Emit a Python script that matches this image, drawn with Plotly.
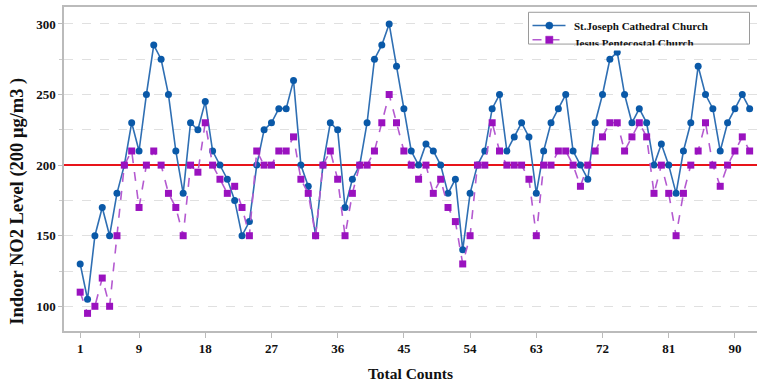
import plotly.graph_objects as go

counts = list(range(1, 93))

st_joseph = [
    130, 105, 150, 170, 150, 180, 200, 230, 210, 250,
    285, 275, 250, 210, 180, 230, 225, 245, 210, 200,
    190, 175, 150, 160, 200, 225, 230, 240, 240, 260,
    200, 185, 150, 200, 230, 225, 170, 190, 200, 230,
    275, 285, 300, 270, 240, 210, 200, 215, 210, 200,
    180, 190, 140, 180, 200, 210, 240, 250, 210, 220,
    230, 220, 180, 210, 230, 240, 250, 210, 200, 190,
    230, 250, 275, 280, 250, 230, 240, 230, 200, 215,
    200, 180, 210, 230, 270, 250, 240, 210, 230, 240,
    250, 240,
]

jesus_pentecostal = [
    110, 95, 100, 120, 100, 150, 200, 210, 170, 200,
    210, 200, 180, 170, 150, 200, 195, 230, 200, 190,
    180, 185, 170, 150, 210, 200, 200, 210, 210, 220,
    190, 180, 150, 200, 210, 190, 150, 180, 200, 200,
    210, 230, 250, 230, 210, 200, 190, 200, 180, 190,
    170, 160, 130, 150, 200, 200, 230, 210, 200, 200,
    200, 190, 150, 200, 200, 210, 210, 200, 185, 200,
    210, 220, 230, 230, 210, 220, 230, 220, 180, 200,
    180, 150, 180, 200, 210, 230, 200, 185, 200, 210,
    220, 210,
]

series_names = ["St.Joseph Cathedral Church", "Jesus Pentecostal Church"]
x_tick_vals = [1, 9, 18, 27, 36, 45, 54, 63, 72, 81, 90]
limit_value = 200

X_MIN, X_MAX = -1.2, 93.0
Y_MIN, Y_MAX = 82.5, 312

serif = "Liberation Serif, Times New Roman, serif"
blue_line, blue_mark = "#2f6fb3", "#0a59a8"
pink_line, pink_mark = "#b45ad0", "#9a12bf"

W, H = 758, 382
M_L, M_R, M_T, M_B = 64, 1, 7, 49
PW, PH = W - M_L - M_R, H - M_T - M_B


def fx(px):
    """Pixel column -> paper x."""
    return (px - M_L) / PW


def fy(py):
    """Pixel row -> paper y."""
    return 1 - (py - M_T) / PH


fig = go.Figure()

# guideline value, drawn first so the series sit on top of it
fig.add_trace(go.Scatter(
    x=[X_MIN, X_MAX], y=[limit_value, limit_value], mode="lines",
    line=dict(color="#e8141a", width=2), hoverinfo="skip", showlegend=False,
))

fig.add_trace(go.Scatter(
    x=counts, y=st_joseph, mode="lines+markers", name=series_names[0],
    line=dict(color=blue_line, width=1.6),
    marker=dict(symbol="circle", size=7, color=blue_mark),
))

fig.add_trace(go.Scatter(
    x=counts, y=jesus_pentecostal, mode="lines+markers", name=series_names[1],
    line=dict(color=pink_line, width=1.6, dash="dash"),
    marker=dict(symbol="square", size=7, color=pink_mark),
))

# boxed key in the upper right corner
box = dict(x0=528.5, x1=749.5, y0=12.3, y1=44.3)
fig.add_shape(type="rect", xref="paper", yref="paper",
              x0=fx(box["x0"]), x1=fx(box["x1"]), y0=fy(box["y1"]), y1=fy(box["y0"]),
              line=dict(color="#9a9a9a", width=1), fillcolor="white", layer="above")

key_rows = [
    (25.7, blue_line, blue_mark, "solid", "circle"),
    (40.0, pink_line, pink_mark, "dash", "rect"),
]
for row_y, lc, mc, dash, sym in key_rows:
    fig.add_shape(type="line", xref="paper", yref="paper",
                  x0=fx(532.5), x1=fx(565.5), y0=fy(row_y), y1=fy(row_y),
                  line=dict(color=lc, width=1.5, dash=dash), layer="above")
    fig.add_shape(type=sym, xref="paper", yref="paper",
                  x0=fx(549.3 - 3.6), x1=fx(549.3 + 3.6),
                  y0=fy(row_y + 3.6), y1=fy(row_y - 3.6),
                  line=dict(color=mc, width=0.5), fillcolor=mc, layer="above")

fig.add_annotation(text=series_names[0], xref="paper", yref="paper",
                   x=fx(571.5), y=fy(26.5), xanchor="left", yanchor="middle",
                   showarrow=False,
                   font=dict(family=serif, size=11, color="#111", weight="bold"))
fig.add_annotation(text=series_names[1], xref="paper", yref="paper",
                   x=fx(571.5), y=fy(43.0), xanchor="left", yanchor="middle",
                   showarrow=False,
                   font=dict(family=serif, size=11, color="#111", weight="bold"))
# the key box cuts off the lower edge of its second row
fig.add_annotation(text="", xref="paper", yref="paper",
                   x=fx(box["x0"] - 1), y=fy(45.0), xanchor="left", yanchor="top",
                   width=box["x1"] - box["x0"] + 2, height=3.5, borderpad=0,
                   bgcolor="white", showarrow=False)

# y-axis title
fig.add_annotation(text="Indoor NO2 Level (200 μg/m3 )", xref="paper", yref="paper",
                   x=fx(18), y=fy(203), xanchor="center", yanchor="middle",
                   textangle=-90, showarrow=False,
                   font=dict(family=serif, size=18.5, color="#111", weight="bold"))

fig.update_layout(
    width=W, height=H,
    margin=dict(l=M_L, r=M_R, t=M_T, b=M_B),
    plot_bgcolor="white", paper_bgcolor="white",
    font=dict(family=serif, size=13, color="#111"),
    showlegend=False,
)

fig.update_xaxes(
    range=[X_MIN, X_MAX],
    tickvals=x_tick_vals,
    ticks="outside", ticklen=5, tickcolor="#bbb",
    tickfont=dict(family=serif, size=13, weight="bold"),
    showline=True, linecolor="#bbb", linewidth=1.5, mirror=True,
    showgrid=False, zeroline=False,
    title=dict(text="Total Counts", font=dict(family=serif, size=15.5, weight="bold"), standoff=14),
)

fig.update_yaxes(
    range=[Y_MIN, Y_MAX],
    tick0=100, dtick=50,
    ticks="outside", ticklen=4, tickcolor="#bbb",
    tickfont=dict(family=serif, size=13, weight="bold"),
    showline=True, linecolor="#bbb", linewidth=1.5,
    showgrid=True, gridcolor="#e0e0e0", griddash="dash", gridwidth=1,
    minor=dict(dtick=25, tick0=100, showgrid=True, gridcolor="#e0e0e0", griddash="dash",
               ticks="outside", ticklen=3, tickcolor="#ccc"),
    zeroline=False,
)

fig.write_html("out.html")
